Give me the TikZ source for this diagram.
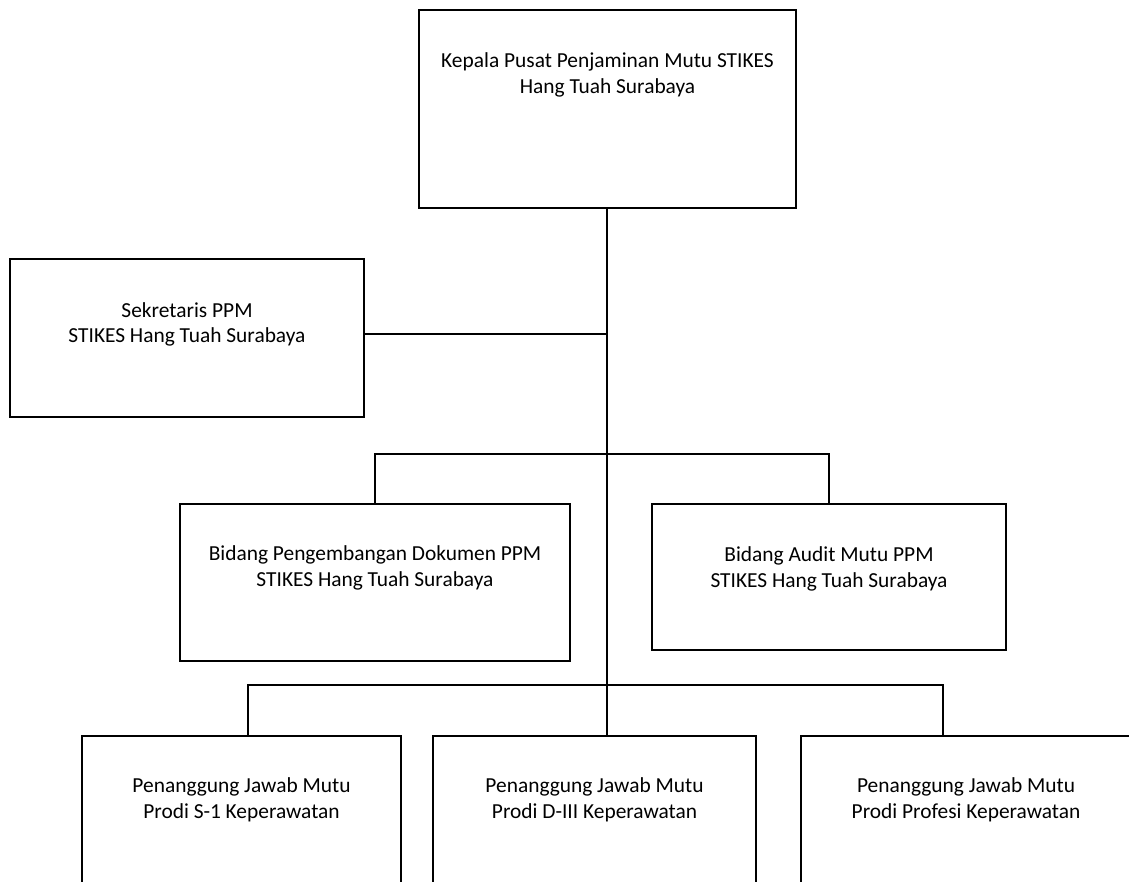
\documentclass[tikz,border=0pt]{standalone}
\usepackage{fontspec}
\setmainfont{Carlito}
\begin{document}
\begin{tikzpicture}[x=1pt,y=-1pt,
  box/.style={draw=black, line width=2pt, rectangle, inner sep=0pt, fill=white},
  lbl/.style={inner sep=0pt, align=center, font=\fontsize{21.4}{25.5}\selectfont, text=black},
  conn/.style={draw=black, line width=2pt}]
\useasboundingbox (0,0) rectangle (1129,881);
\clip (0,0) rectangle (1129,881);
% boxes
\node[box, minimum width=377pt, minimum height=198pt] (top) at (607.5,109) {};
\node[box, minimum width=354pt, minimum height=158pt] (sek) at (187,338) {};
\node[box, minimum width=390pt, minimum height=157pt] (dev) at (375,582.5) {};
\node[box, minimum width=354pt, minimum height=146pt] (aud) at (829,577) {};
\node[box, minimum width=319pt, minimum height=200pt] (s1) at (241.5,836) {};
\node[box, minimum width=323pt, minimum height=200pt] (d3) at (594.5,836) {};
\node[box, minimum width=330pt, minimum height=200pt] (prof) at (966,836) {};
% labels
\node[lbl] (ttop) at (607.5,75) {Kepala Pusat Penjaminan Mutu STIKES\\Hang Tuah Surabaya};
\node[lbl] (tsek) at (187,324.5) {Sekretaris PPM\\STIKES Hang Tuah Surabaya};
\node[lbl] (tdev) at (375,568) {Bidang Pengembangan Dokumen PPM\\STIKES Hang Tuah Surabaya};
\node[lbl] (taud) at (829,569) {Bidang Audit Mutu PPM\\STIKES Hang Tuah Surabaya};
\node[lbl] (ts1) at (241.5,800) {Penanggung Jawab Mutu\\Prodi S-1 Keperawatan};
\node[lbl] (td3) at (594.5,800) {Penanggung Jawab Mutu\\Prodi D-III Keperawatan};
\node[lbl] (tprof) at (966,800) {Penanggung Jawab Mutu\\Prodi Profesi Keperawatan};
% junction coordinates
\coordinate (j0) at (607,208);
\coordinate (j1) at (607,334);
\coordinate (j2) at (607,454);
\coordinate (b1) at (248,685);
\coordinate (b3) at (943,685);
% connectors
\draw[conn] (j0) -- (j0 |- d3.north);
\draw[conn] (j1 -| sek.east) -- (j1);
\draw[conn] (dev.north) -- (dev.north |- j2) -- (aud.north |- j2) -- (aud.north);
\draw[conn] (b1 |- s1.north) -- (b1) -- (b3) -- (b3 |- prof.north);
\end{tikzpicture}
\end{document}
